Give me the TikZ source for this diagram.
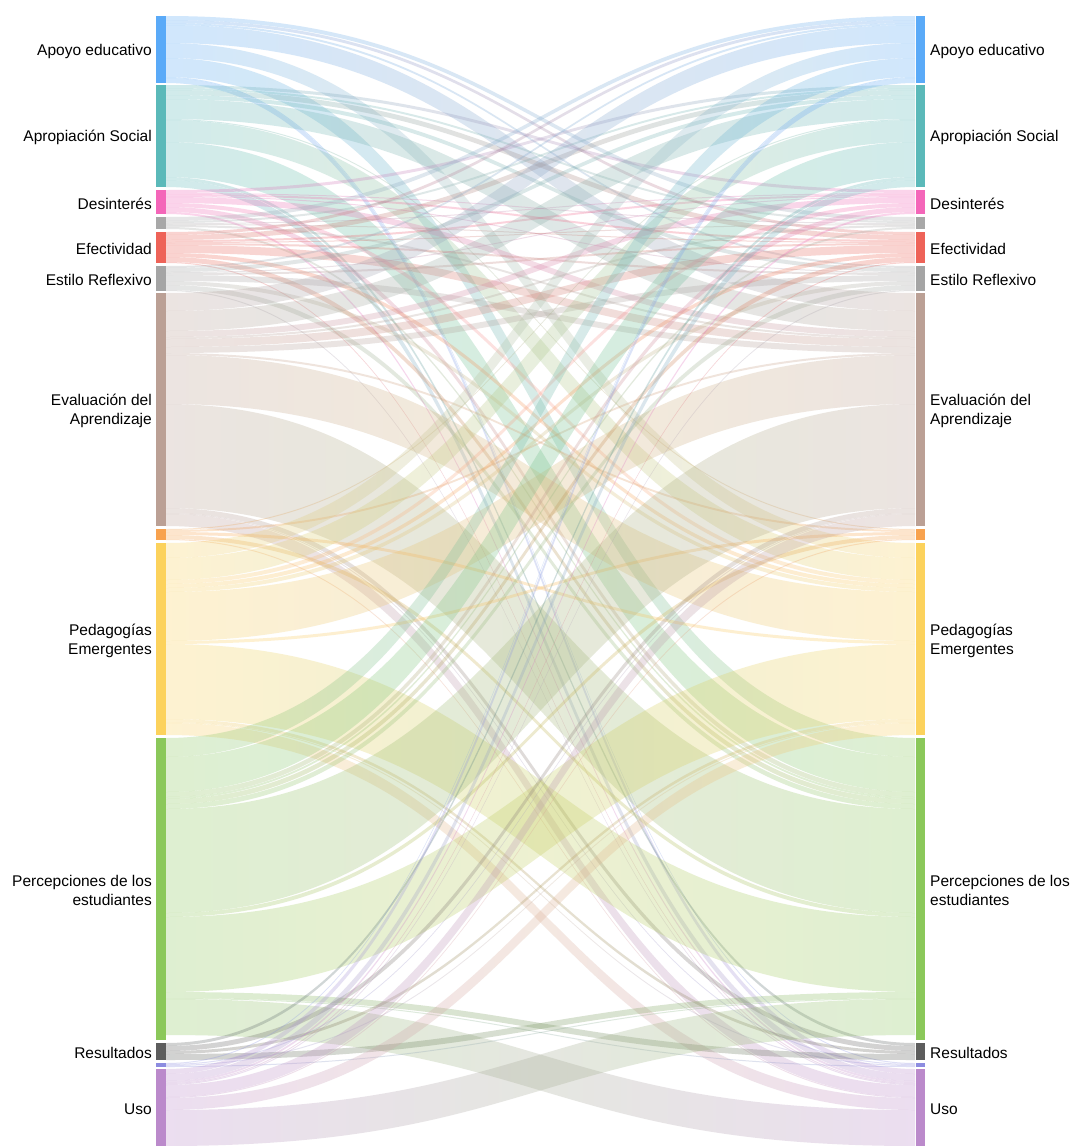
\documentclass[tikz,border=0pt]{standalone}
\usepackage{fontspec}
\setmainfont{Liberation Sans}
\usetikzlibrary{positioning}
\definecolor{cA}{HTML}{5AAAF8}
\definecolor{cB}{HTML}{5BB9B9}
\definecolor{cC}{HTML}{F466B9}
\definecolor{cD}{HTML}{A8A8A8}
\definecolor{cE}{HTML}{EE6358}
\definecolor{cF}{HTML}{A5A5A5}
\definecolor{cG}{HTML}{BBA095}
\definecolor{cH}{HTML}{F8A24E}
\definecolor{cI}{HTML}{FCD25C}
\definecolor{cJ}{HTML}{8BC85A}
\definecolor{cK}{HTML}{5D5D5D}
\definecolor{cL}{HTML}{8C8CE0}
\definecolor{cM}{HTML}{BB8ACB}

% tops of the bars and co-occurrence rows (A..M)
\def\toplist{{16,85,190,217,232,266,293,529,543,738,1043,1063,1069}}
\def\rowA{0,0,0,4,3,2,18,0,15,19,0,1,5}
\def\rowB{0,0,3,2,5,4,20,1,22,35,3,0,7}
\def\rowC{0,3,0,1,2,1,6,0,4,5,0,0,2}
\def\rowD{4,2,1,0,1,0,2,0,0,2,0,0,0}
\def\rowE{3,5,2,1,0,2,8,0,4,5,0,0,1}
\def\rowF{2,4,1,0,2,0,6,0,4,5,0,0,1}
\def\rowG{18,20,6,2,8,6,0,2,49,104,5,1,12}
\def\rowH{0,1,0,0,0,0,2,0,3,4,0,0,1}
\def\rowI{15,22,4,0,4,4,49,3,0,75,3,1,12}
\def\rowJ{19,35,5,2,5,5,104,4,75,0,6,1,36}
\def\rowK{0,3,0,0,0,0,5,0,3,6,0,0,0}
\def\rowL{1,0,0,0,0,0,1,0,1,1,0,0,0}
\def\rowM{5,7,2,0,1,1,12,1,12,36,0,0,0}
\def\letter#1{\ifcase#1\or A\or B\or C\or D\or E\or F\or G\or H\or I\or J\or K\or L\or M\fi}

\begin{document}
\begin{tikzpicture}[x=1pt, y=-1pt,
    bar/.style={inner sep=0, outer sep=0, minimum width=9.5pt, anchor=north west},
    lbl/.style={inner sep=0, yshift=-1.5pt, font=\fontsize{15.5}{19}\selectfont},
    flow/.style={fill opacity=0.28}]
  \useasboundingbox[fill=white] (0,0) rectangle (1075,1146);

  % bars on both sides
  \foreach \n/\t/\h in {A/16/67, B/85/102, C/190/24, D/217/12, E/232/31, F/266/25,
      G/293/233, H/529/11, I/543/192, J/738/302, K/1043/17, L/1063/4, M/1069/77} {
    \node[bar, fill=c\n, minimum height=\h pt] (l\n) at (156,\t) {};
    \node[bar, fill=c\n, minimum height=\h pt] (r\n) at (915.5,\t) {};
  }

  % labels
  \foreach \n/\txt in {A/{Apoyo educativo}, B/{Apropiación Social}, C/{Desinterés},
      E/{Efectividad}, F/{Estilo Reflexivo}, G/{Evaluación del\\Aprendizaje},
      I/{Pedagogías\\Emergentes}, J/{Percepciones de los\\estudiantes},
      K/{Resultados}, M/{Uso}} {
    \node[lbl, left=4pt of l\n, align=right] (tl\n) {\txt};
    \node[lbl, right=5pt of r\n, align=left] (tr\n) {\txt};
  }

  % right-hand cursors
  \foreach \n [count=\j] in {A,B,C,D,E,F,G,H,I,J,K,L,M} {
    \pgfmathsetmacro\t{\toplist[\j-1]}
    \expandafter\xdef\csname rc\j\endcsname{\t}
  }

  % flows
  \foreach \n [count=\i] in {A,B,C,D,E,F,G,H,I,J,K,L,M} {
    \pgfmathsetmacro\lc{\toplist[\i-1]}
    \xdef\lcur{\lc}
    \edef\row{\csname row\n\endcsname}
    \foreach \v [count=\j] in \row {
      \ifnum\v>0
        \edef\rc{\csname rc\j\endcsname}
        \edef\tn{\letter\j}
        \pgfmathsetmacro\lb{\lcur+\v}
        \pgfmathsetmacro\rb{\rc+\v}
        \shade[flow, left color=c\n, right color=c\tn]
          (166,\lcur) .. controls (540.5,\lcur) and (540.5,\rc) .. (915,\rc)
          -- (915,\rb) .. controls (540.5,\rb) and (540.5,\lb) .. (166,\lb) -- cycle;
        \xdef\lcur{\lb}
        \expandafter\xdef\csname rc\j\endcsname{\rb}
      \fi
    }
  }
\end{tikzpicture}
\end{document}
